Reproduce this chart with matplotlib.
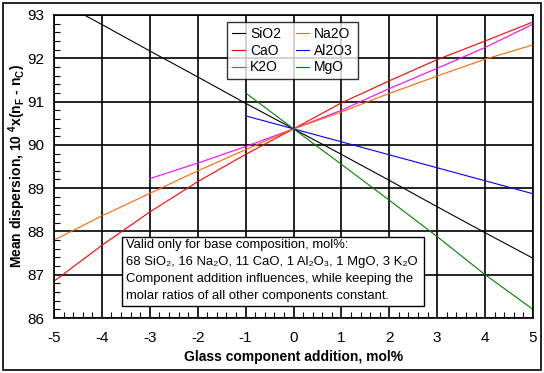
import matplotlib
matplotlib.use("Agg")
import matplotlib.pyplot as plt
from matplotlib.patches import Rectangle
from matplotlib.ticker import MultipleLocator

plt.rcParams['font.family'] = ['Liberation Sans', 'DejaVu Sans']
plt.rcParams['mathtext.default'] = 'regular'
plt.rcParams['axes.unicode_minus'] = False

# values
x_full = [-5, -4, -3, -2, -1, 0, 1, 2, 3, 4, 5]
sio2 = [93.38, 92.78, 92.17, 91.57, 90.96, 90.37, 89.78, 89.18, 88.57, 87.97, 87.38]
na2o = [87.80, 88.36, 88.88, 89.40, 89.89, 90.37, 90.76, 91.19, 91.59, 91.98, 92.31]
cao = [86.85, 87.68, 88.45, 89.15, 89.78, 90.37, 90.97, 91.48, 91.97, 92.40, 92.84]

x_k2o = [-3, -2, -1, 0, 1, 2, 3, 4, 5]
k2o = [89.22, 89.58, 89.96, 90.37, 90.80, 91.30, 91.77, 92.25, 92.79]

x_short = [-1, 0, 1, 2, 3, 4, 5]
al2o3 = [90.67, 90.37, 90.07, 89.77, 89.47, 89.17, 88.87]
mgo = [91.20, 90.37, 89.55, 88.72, 87.88, 87.00, 86.20]

note_lines = [
    "Valid only for base composition, mol%:",
    "68 SiO\u2082, 16 Na\u2082O, 11 CaO, 1 Al\u2082O\u2083, 1 MgO, 3 K\u2082O",
    "Component addition influences, while keeping the",
    "molar ratios of all other components constant.",
]

W, H = 544, 373
fig = plt.figure(figsize=(W / 100, H / 100), dpi=100)
fig.patch.set_facecolor('white')
ax = fig.add_axes([54 / W, 1 - 318 / H, (533 - 54) / W, (318 - 15) / H])

lw = 0.8
ax.plot(x_full, sio2, color='black', lw=lw, label='SiO2')
ax.plot(x_full, cao, color='#ff0000', lw=lw, label='CaO')
ax.plot(x_k2o, k2o, color='#ff00ff', lw=lw, label='K2O')
ax.plot(x_full, na2o, color='#ff6600', lw=lw, label='Na2O')
ax.plot(x_short, al2o3, color='#0000ff', lw=lw, label='Al2O3')
ax.plot(x_short, mgo, color='#008000', lw=lw, label='MgO')

ax.set_xlim(-5, 5)
ax.set_ylim(86, 93)
ax.xaxis.set_major_locator(MultipleLocator(1))
ax.yaxis.set_major_locator(MultipleLocator(1))
ax.xaxis.set_minor_locator(MultipleLocator(0.2))
ax.yaxis.set_minor_locator(MultipleLocator(0.2))
ax.grid(True, which='major', color='black', lw=1.2)
ax.set_axisbelow(True)
ax.tick_params(which='major', length=0, labelsize=11, colors='black')
ax.tick_params(axis='x', which='major', pad=9)
ax.tick_params(axis='y', which='major', pad=7)
ax.tick_params(which='minor', direction='in', length=4, width=0.8,
               bottom=True, left=True, top=False, right=False)
for s in ax.spines.values():
    s.set_linewidth(1.2)

ax.set_xlabel('Glass component addition, mol%', fontsize=10, fontweight='bold')
ax.xaxis.set_label_coords(0.5, -0.128)
ax.set_ylabel(r'Mean dispersion, 10 $^{4}$x(n$_{F}$ - n$_{C}$)', fontsize=10,
              fontweight='bold')
ax.yaxis.set_label_coords(-0.077, 0.5)
ax.yaxis.label.set_va('center')
ax.xaxis.label.set_va('center')

leg = ax.legend(ncol=2, loc='upper left', bbox_to_anchor=(0.361, 0.977),
                borderaxespad=0, fontsize=10, frameon=True, fancybox=False,
                edgecolor='black', handlelength=0.95, handletextpad=0.35,
                columnspacing=1.1, labelspacing=0.2, borderpad=0.35)
leg.get_frame().set_linewidth(1.0)

# note box
bx0, by0, bx1, by1 = 122, 237, 424, 306
fig.add_artist(Rectangle((bx0 / W, 1 - by1 / H), (bx1 - bx0) / W, (by1 - by0) / H,
                         transform=fig.transFigure, facecolor='white',
                         edgecolor='black', lw=1.0, zorder=5))
for i, line in enumerate(note_lines):
    fig.text(126 / W, 1 - (245 + 17 * i) / H, line, fontsize=9.4, va='center',
             ha='left', zorder=6)

# outer frame
fig.add_artist(Rectangle((3 / W, 3 / H), (541 - 3) / W, (370 - 3) / H,
                         transform=fig.transFigure, fill=False,
                         edgecolor='black', lw=1.2))

fig.savefig('out.png', dpi=100)
